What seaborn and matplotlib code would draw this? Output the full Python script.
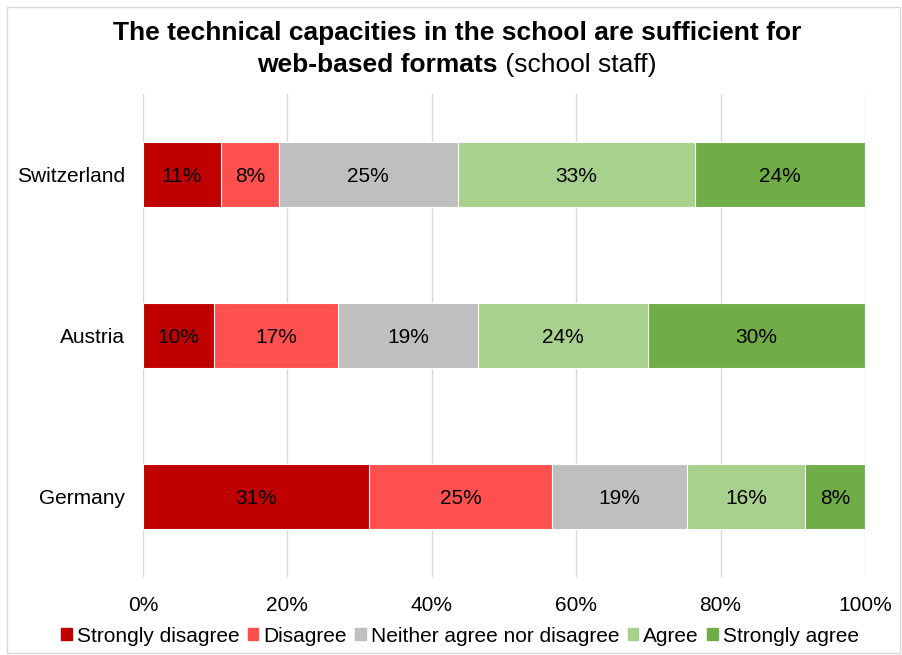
import matplotlib
matplotlib.use("Agg")
import matplotlib.pyplot as plt
import seaborn as sns
import numpy as np
import pandas as pd
from matplotlib.patches import Rectangle

countries = ["Switzerland", "Austria", "Germany"]
responses = ["Strongly disagree", "Disagree", "Neither agree nor disagree", "Agree", "Strongly agree"]
switzerland = [10.8, 8.0, 24.8, 32.8, 23.6]
austria = [9.8, 17.2, 19.4, 23.6, 30.0]
germany = [31.3, 25.4, 18.6, 16.4, 8.3]
colors = ["#C00000", "#FF5050", "#BFBFBF", "#A9D18E", "#70AD47"]
xticks = [0, 20, 40, 60, 80, 100]

sns.set_theme(style="white")
plt.rcParams["font.family"] = ["Liberation Sans", "DejaVu Sans"]
plt.rcParams["text.color"] = "black"
plt.rcParams["xtick.color"] = "black"
plt.rcParams["ytick.color"] = "black"
plt.rcParams["axes.labelcolor"] = "black"

FS = 15

vals = np.array([switzerland, austria, germany])
cum = np.cumsum(vals, axis=1)

fig = plt.figure(figsize=(9.03, 6.55), dpi=100)
ax = fig.add_axes([143/903, 1-577/655, (865-143)/903, (577-94)/655])

for i in range(len(responses)-1, -1, -1):
    df = pd.DataFrame({"country": countries, "value": cum[:, i]})
    sns.barplot(data=df, x="value", y="country", order=countries, color=colors[i],
                width=0.4, edgecolor="white", linewidth=0.8, ax=ax, zorder=2,
                saturation=1)

for r, c in enumerate(countries):
    left = 0
    for i in range(len(responses)):
        v = vals[r, i]
        ax.text(left + v/2, r + 0.01, f"{v:.0f}%", ha="center", va="center", fontsize=FS, color="black", zorder=5)
        left += v

ax.set_xlim(0, 100)
ax.set_ylim(2.5, -0.5)
ax.set_xticks(xticks)
ax.set_xticklabels([f"{t}%" for t in xticks], fontsize=FS)
ax.tick_params(axis="y", labelsize=FS, length=0, pad=13)
ax.tick_params(axis="x", length=0, pad=14)
ax.set_xlabel("")
ax.set_ylabel("")
ax.grid(axis="x", color="#D9D9D9", linewidth=1, zorder=0)
ax.set_axisbelow(True)
for s in ax.spines.values():
    s.set_visible(False)

# legend
handles = [Rectangle((0, 0), 1, 1, color=c) for c in colors]
fig.legend(handles, responses, loc="center", bbox_to_anchor=(460/903, 1-636/655), ncol=5,
           frameon=False, fontsize=FS, handlelength=0.5, handleheight=0.5,
           handletextpad=0.25, columnspacing=0.4)

# title
fig.text(457/903, 1-33/655, "The technical capacities in the school are sufficient for",
         ha="center", va="center", fontsize=19, fontweight="bold")
renderer = fig.canvas.get_renderer()
tb = fig.text(0, 1-65/655, "web-based formats", ha="left", va="center", fontsize=19, fontweight="bold")
tn = fig.text(0, 1-65/655, " (school staff)", ha="left", va="center", fontsize=19)
wb = tb.get_window_extent(renderer).width
wn = tn.get_window_extent(renderer).width
x0 = 457 - (wb + wn)/2
tb.set_x(x0/903)
tn.set_x((x0 + wb)/903)

# figure border
fig.patches.append(Rectangle((7/903, 2/655), 893/903, 646/655, transform=fig.transFigure,
                             fill=False, edgecolor="#D9D9D9", linewidth=1))

fig.savefig("out.png", dpi=100)
